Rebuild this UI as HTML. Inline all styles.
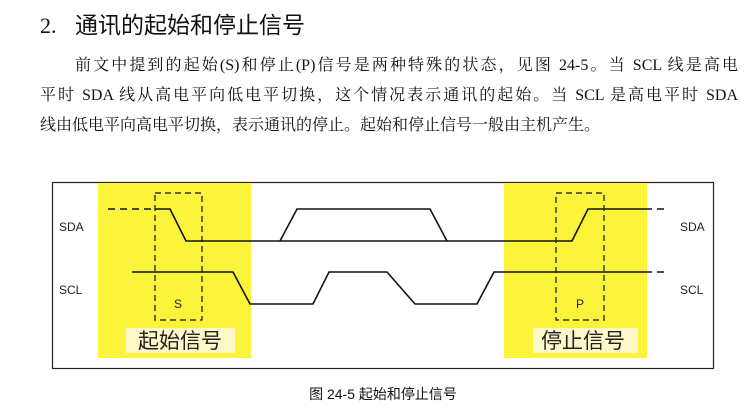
<!DOCTYPE html>
<html><head><meta charset="utf-8"><style>
body{margin:0;width:745px;height:412px;background:#fff;position:relative;overflow:hidden}
.h{position:absolute;left:40px;top:6px;color:#111;white-space:nowrap;display:flex;align-items:baseline}
.h .n{font-family:"Liberation Serif",serif;font-size:22px;width:35px}
.h .t{font-family:"Liberation Sans","Noto Sans CJK SC",sans-serif;font-size:23px}
.p{position:absolute;left:40px;width:698px;font-family:"Liberation Serif","Noto Serif CJK SC",serif;font-size:16px;color:#111;text-align:justify;text-align-last:justify;white-space:nowrap;line-height:20px}
.cap{position:absolute;left:0;width:766px;top:384px;text-align:center;font-family:"Liberation Sans","Noto Sans CJK SC",sans-serif;font-size:14px;color:#111}
</style></head><body>
<div class="h"><span class="n">2.</span><span class="t">通讯的起始和停止信号</span></div>
<div class="p" style="top:56px;left:75px;width:663px">前文中提到的起始(S)和停止(P)信号是两种特殊的状态，见图 24-5。当 SCL 线是高电</div>
<div class="p" style="top:86px">平时 SDA 线从高电平向低电平切换，这个情况表示通讯的起始。当 SCL 是高电平时 SDA</div>
<div class="p" style="top:116px;text-align-last:left">线由低电平向高电平切换，表示通讯的停止。起始和停止信号一般由主机产生。</div>
<svg style="position:absolute;left:0;top:0" width="745" height="412">
<rect x="52.5" y="182.5" width="661" height="186" fill="#fff" stroke="#222" stroke-width="1.2"/>
<rect x="98" y="183" width="153" height="175" fill="#fbf43a"/>
<rect x="504" y="183" width="143" height="175" fill="#fbf43a"/>
<rect x="126" y="328" width="109" height="25" fill="#fcf8c8"/>
<rect x="533" y="328" width="105" height="25" fill="#fcf8c8"/>
<g font-family="Liberation Sans,Noto Sans CJK SC,sans-serif" fill="#222">
<text x="138" y="348" font-size="21">起始信号</text>
<text x="541" y="348" font-size="21">停止信号</text>
<text x="59" y="231" font-size="12">SDA</text>
<text x="59" y="294" font-size="12">SCL</text>
<text x="680" y="231" font-size="12">SDA</text>
<text x="680" y="294" font-size="12">SCL</text>
<text x="174" y="308" font-size="12">S</text>
<text x="576" y="308" font-size="12">P</text>
</g>
<g fill="none" stroke="#111" stroke-width="1.6">
<rect x="155" y="193" width="47" height="127" stroke-dasharray="6,4" stroke-width="1.2"/>
<rect x="556" y="193" width="48" height="127" stroke-dasharray="6,4" stroke-width="1.2"/>
<path d="M108 209H155" stroke-dasharray="7,5"/>
<path d="M155 209H170L186 241H572L588 209H645"/>
<path d="M645 209H668" stroke-dasharray="7,5"/>
<path d="M280 241L297 209H430L447 241"/>
<path d="M132 272H233L250 304H313L329 272H387L415 304H477L494 272H645"/>
<path d="M645 272H668" stroke-dasharray="7,5"/>
</g>
</svg>
<div class="cap">图 24-5 起始和停止信号</div>
</body></html>
